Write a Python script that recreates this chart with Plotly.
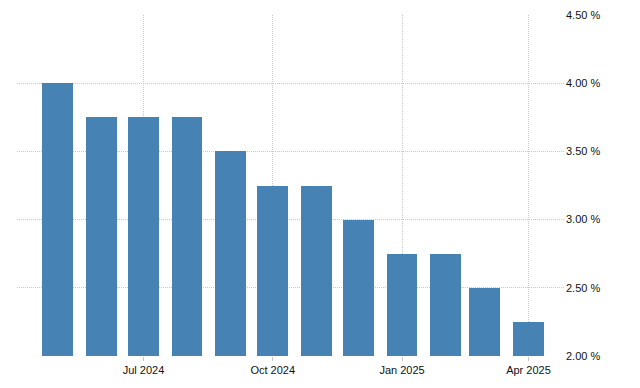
import plotly.graph_objects as go

months = ["2024-05-01", "2024-06-01", "2024-07-01", "2024-08-01", "2024-09-01", "2024-10-01",
          "2024-11-01", "2024-12-01", "2025-01-01", "2025-02-01", "2025-03-01", "2025-04-01"]
rates = [4.00, 3.75, 3.75, 3.75, 3.50, 3.25, 3.25, 3.00, 2.75, 2.75, 2.50, 2.25]
y_ticks = [2.0, 2.5, 3.0, 3.5, 4.0, 4.5]
y_tick_labels = ["2.00 %", "2.50 %", "3.00 %", "3.50 %", "4.00 %", "4.50 %"]

DAY_MS = 86400000

fig = go.Figure(go.Bar(
    x=months, y=rates,
    marker=dict(color="#4682B4", line=dict(width=0)),
    width=22 * DAY_MS,
    hoverinfo="x+y",
))

# page body has an 8px default margin, so the figure is sized/offset to fit the 640x388 window
fig.update_layout(
    width=632, height=380,
    margin=dict(l=9, r=75, t=7, b=32),
    paper_bgcolor="white", plot_bgcolor="white",
    font=dict(family="Liberation Sans, Arial, sans-serif", size=11, color="#111111"),
    showlegend=False,
    bargap=0,
)
fig.update_xaxes(
    type="date",
    range=["2024-04-02", "2025-04-27"],
    tick0="2024-07-01", dtick="M3", tickformat="%b %Y",
    showgrid=True, gridcolor="#c8c8c8", griddash="1px,1px", gridwidth=1,
    ticks="outside", ticklen=4, tickcolor="#c8c8c8",
    showline=False, zeroline=False, automargin=False,
)
fig.update_yaxes(
    side="right", range=[2.0, 4.5],
    tickvals=y_ticks, ticktext=y_tick_labels,
    showgrid=True, gridcolor="#c8c8c8", griddash="1px,1px", gridwidth=1,
    ticks="", showline=False, zeroline=False, automargin=False,
)

fig.write_html("out.html")
